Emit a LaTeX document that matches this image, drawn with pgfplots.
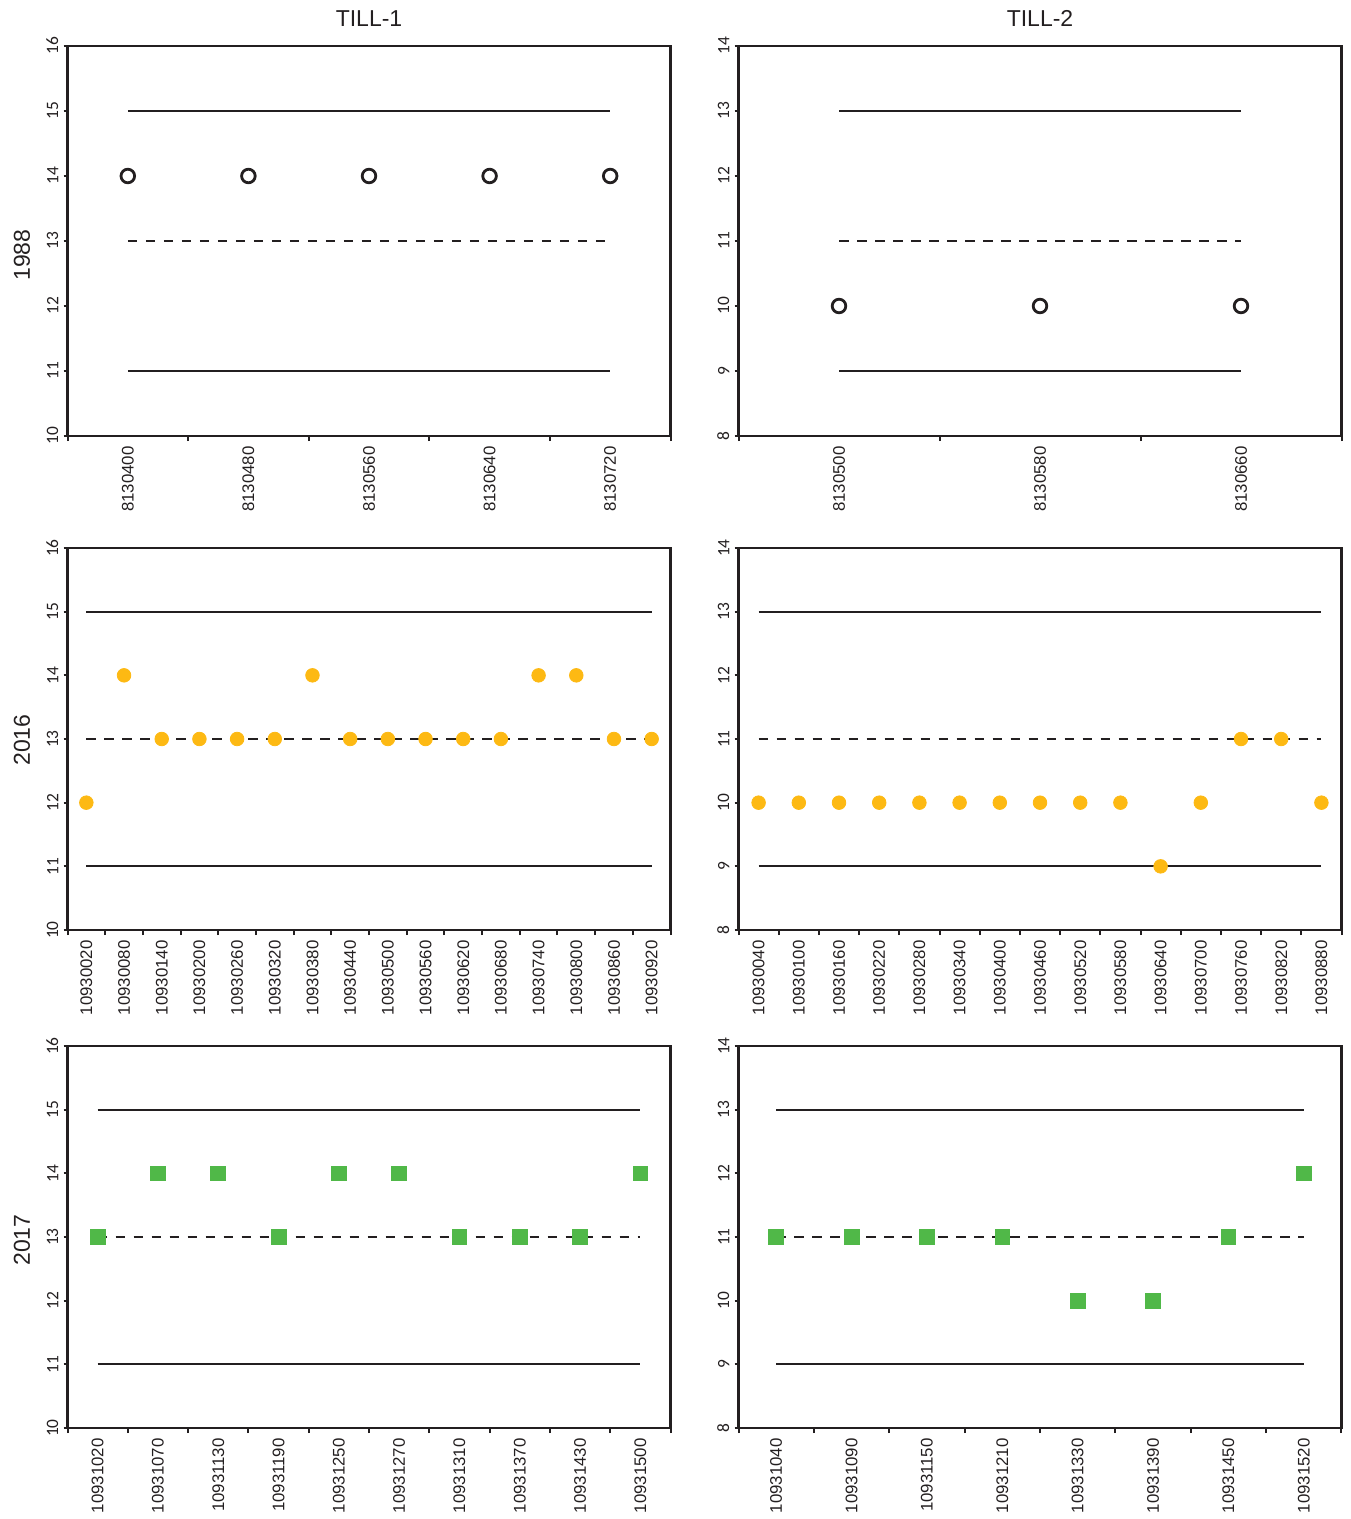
\documentclass[border=0pt]{standalone}
\usepackage{pgfplots}
\pgfplotsset{compat=1.18}
\usepackage{fontspec}
\setmainfont{Liberation Sans}
\newfontfamily\carlito{Carlito}
\definecolor{axc}{RGB}{35,31,32}
\definecolor{gold}{RGB}{253,185,19}
\definecolor{grn}{RGB}{80,184,72}
\pgfplotsset{
 panel/.style={
  scale only axis, width=301.5pt, anchor=north west,
  axis line style={axc, line width=1.25pt},
  tick style={axc, line width=1pt},
  tick align=outside, xtick pos=bottom, ytick pos=left,
  major tick length=2pt, minor tick length=2.6pt,
  major x tick style={draw=none},
  ytick distance=1,
  /pgf/number format/assume math mode=true,
  yticklabel style={rotate=90, anchor=south, inner ysep=2.4pt, font=\carlito\fontsize{8.7}{10}\selectfont, text=axc},
  xticklabel style={rotate=90, anchor=east, inner xsep=3pt, font=\fontsize{8.4}{10}\selectfont, text=axc},
  clip=false,
 },
 lim/.style={axc, line width=1.15pt, no marks},
 mid/.style={axc, line width=1.15pt, no marks, dash pattern=on 4.75pt off 4.25pt},
 opc/.style={only marks, mark=o, mark size=3.4pt, line width=1.4pt, draw=axc},
 gdc/.style={only marks, mark=*, mark size=3.4pt, draw=gold, fill=gold},
 gsq/.style={only marks, mark=square*, mark size=3.7pt, draw=grn, fill=grn},
}
\begin{document}
\begin{tikzpicture}
\path[use as bounding box] (0,0) rectangle (675pt,-759.5pt);
\node[font=\fontsize{11.5}{13}\selectfont, text=axc] at (184.5pt,-9.25pt) {TILL-1};
\node[font=\fontsize{11.5}{13}\selectfont, text=axc] at (520pt,-9.25pt) {TILL-2};
\node[font=\fontsize{11.5}{13}\selectfont, text=axc, rotate=90] at (11pt,-127.5pt) {1988};
\node[font=\fontsize{11.5}{13}\selectfont, text=axc, rotate=90] at (11pt,-370pt) {2016};
\node[font=\fontsize{11.5}{13}\selectfont, text=axc, rotate=90] at (11pt,-620pt) {2017};

% Row 1, TILL-1
\begin{axis}[panel, at={(33.75pt,-23pt)}, height=195pt,
  xmin=-0.5, xmax=4.5, ymin=10, ymax=16,
  xtick={0,...,4}, minor xtick={-0.5,0.5,...,4.5},
  xticklabels={8130400,8130480,8130560,8130640,8130720}]
\addplot[lim] coordinates {(0,15) (4,15)};
\addplot[mid] coordinates {(0,13) (4,13)};
\addplot[lim] coordinates {(0,11) (4,11)};
\addplot[opc] coordinates {(0,14) (1,14) (2,14) (3,14) (4,14)};
\end{axis}

% Row 1, TILL-2
\begin{axis}[panel, at={(369.25pt,-23pt)}, height=195pt,
  xmin=-0.5, xmax=2.5, ymin=8, ymax=14,
  xtick={0,...,2}, minor xtick={-0.5,0.5,...,2.5},
  xticklabels={8130500,8130580,8130660}]
\addplot[lim] coordinates {(0,13) (2,13)};
\addplot[mid] coordinates {(0,11) (2,11)};
\addplot[lim] coordinates {(0,9) (2,9)};
\addplot[opc] coordinates {(0,10) (1,10) (2,10)};
\end{axis}

% Row 2, TILL-1
\begin{axis}[panel, at={(33.75pt,-274pt)}, height=191pt,
  xmin=-0.5, xmax=15.5, ymin=10, ymax=16,
  xtick={0,...,15}, minor xtick={-0.5,0.5,...,15.5},
  xticklabels={10930020,10930080,10930140,10930200,10930260,10930320,10930380,10930440,10930500,10930560,10930620,10930680,10930740,10930800,10930860,10930920}]
\addplot[lim] coordinates {(0,15) (15,15)};
\addplot[mid] coordinates {(0,13) (15,13)};
\addplot[lim] coordinates {(0,11) (15,11)};
\addplot[gdc] coordinates {(0,12) (1,14) (2,13) (3,13) (4,13) (5,13) (6,14) (7,13) (8,13) (9,13) (10,13) (11,13) (12,14) (13,14) (14,13) (15,13)};
\end{axis}

% Row 2, TILL-2
\begin{axis}[panel, at={(369.25pt,-274pt)}, height=191pt,
  xmin=-0.5, xmax=14.5, ymin=8, ymax=14,
  xtick={0,...,14}, minor xtick={-0.5,0.5,...,14.5},
  xticklabels={10930040,10930100,10930160,10930220,10930280,10930340,10930400,10930460,10930520,10930580,10930640,10930700,10930760,10930820,10930880}]
\addplot[lim] coordinates {(0,13) (14,13)};
\addplot[mid] coordinates {(0,11) (14,11)};
\addplot[lim] coordinates {(0,9) (14,9)};
\addplot[gdc] coordinates {(0,10) (1,10) (2,10) (3,10) (4,10) (5,10) (6,10) (7,10) (8,10) (9,10) (10,9) (11,10) (12,11) (13,11) (14,10)};
\end{axis}

% Row 3, TILL-1
\begin{axis}[panel, at={(33.75pt,-523pt)}, height=191pt,
  xmin=-0.5, xmax=9.5, ymin=10, ymax=16,
  xtick={0,...,9}, minor xtick={-0.5,0.5,...,9.5},
  xticklabels={10931020,10931070,10931130,10931190,10931250,10931270,10931310,10931370,10931430,10931500}]
\addplot[lim] coordinates {(0,15) (9,15)};
\addplot[mid] coordinates {(0,13) (9,13)};
\addplot[lim] coordinates {(0,11) (9,11)};
\addplot[gsq] coordinates {(0,13) (1,14) (2,14) (3,13) (4,14) (5,14) (6,13) (7,13) (8,13) (9,14)};
\end{axis}

% Row 3, TILL-2
\begin{axis}[panel, at={(369.25pt,-523pt)}, height=191pt,
  xmin=-0.5, xmax=7.5, ymin=8, ymax=14,
  xtick={0,...,7}, minor xtick={-0.5,0.5,...,7.5},
  xticklabels={10931040,10931090,10931150,10931210,10931330,10931390,10931450,10931520}]
\addplot[lim] coordinates {(0,13) (7,13)};
\addplot[mid] coordinates {(0,11) (7,11)};
\addplot[lim] coordinates {(0,9) (7,9)};
\addplot[gsq] coordinates {(0,11) (1,11) (2,11) (3,11) (4,10) (5,10) (6,11) (7,12)};
\end{axis}
\end{tikzpicture}
\end{document}
